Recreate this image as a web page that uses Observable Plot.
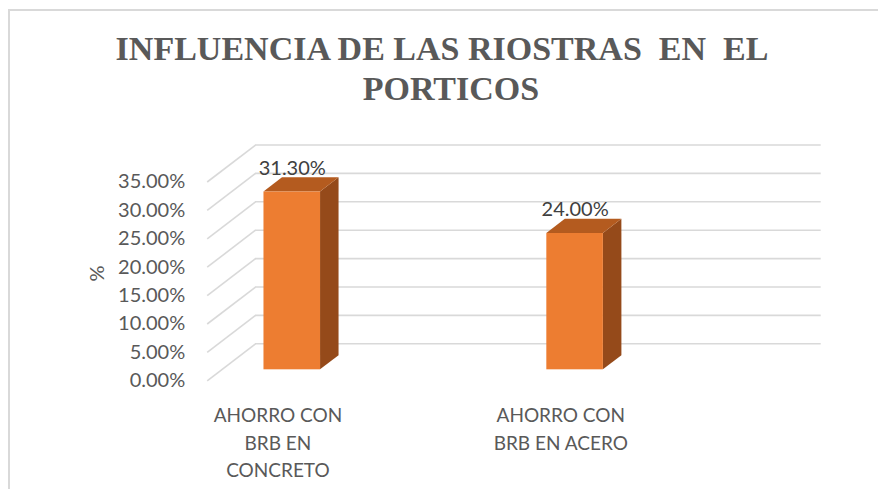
<!DOCTYPE html>
<html>
<head>
<meta charset="utf-8">
<script src="https://cdn.jsdelivr.net/npm/d3@7"></script>
<script src="https://cdn.jsdelivr.net/npm/@observablehq/plot@0.6"></script>
<style>
  html, body { margin: 0; padding: 0; background: #fff; }
  #chart { position: relative; width: 878px; height: 489px; overflow: hidden; background: #fff; }
  #frame { position: absolute; left: 8px; top: 9px; width: 1000px; height: 600px;
           border-left: 2px solid #d9d9d9; border-top: 2px solid #d9d9d9; }
  .title { position: absolute; left: 0; font-family: "Liberation Serif", "Times New Roman", serif;
           font-weight: bold; font-size: 34px; line-height: 34px; color: #595959;
           white-space: pre; transform: translateX(-50%); }
  #plot { position: absolute; left: 0; top: 0; }
</style>
</head>
<body>
<div id="chart">
  <div id="frame"></div>
  <div class="title" style="left:442px; top:32px;">INFLUENCIA DE LAS RIOSTRAS  EN  EL</div>
  <div class="title" style="left:451px; top:72px;">PORTICOS</div>
  <div id="plot"></div>
</div>
<script>
// Categories (x axis, multi-line), values in percent, and y-axis ticks
const categories = ["AHORRO CON\nBRB EN\nCONCRETO", "AHORRO CON\nBRB EN ACERO"];
const values = [31.3, 24.0];
const yTicks = [0, 5, 10, 15, 20, 25, 30, 35];

const bars = categories.map((label, i) => ({i, label, value: values[i]}));

// Oblique depth of the floor, in data units (x: categories, y: percent)
const depthX = 0.1708;
const depthY = 6.51;
// Bars sit between these fractions of the floor depth, and span +/- halfW around the category
const f1 = 0.297, f2 = 0.68, halfW = 0.1;
const g = f2 - f1;

const xMin = -0.25, xMax = 1.75;
const fmt = d => d.toFixed(2) + "%";

const frontColor = "#ED7D31", topColor = "#B45B1F", sideColor = "#954A1A", gridColor = "#d9d9d9";

const topFaces = bars.flatMap(b => {
  const xl = b.i - halfW + f1 * depthX, xr = b.i + halfW + f1 * depthX;
  return [
    {bar: b.i, y: b.value + f1 * depthY, x1: xl, x2: xr},
    {bar: b.i, y: b.value + f2 * depthY, x1: xl + g * depthX, x2: xr + g * depthX}
  ];
});
const sideFaces = bars.flatMap(b => {
  const xr = b.i + halfW + f1 * depthX;
  return [
    {bar: b.i, x: xr, y1: f1 * depthY, y2: b.value + f1 * depthY},
    {bar: b.i, x: xr + g * depthX, y1: f2 * depthY, y2: b.value + f2 * depthY}
  ];
});

const chart = Plot.plot({
  width: 878,
  height: 489,
  marginLeft: 206.7,
  marginRight: 105.6,
  marginTop: 181.5,
  marginBottom: 108.7,
  x: {domain: [xMin, xMax], axis: null},
  y: {domain: [0, 35], axis: null},
  style: {fontFamily: "Lato, sans-serif", fontSize: "20px", color: "#595959",
          background: "transparent", overflow: "visible"},
  marks: [
    // back wall gridlines
    Plot.ruleY(yTicks, {y: d => d + depthY, x1: xMin + depthX, x2: xMax + depthX,
                        stroke: gridColor, strokeWidth: 1.6}),
    // side wall gridlines, slanting from the axis to the back wall
    Plot.link(yTicks, {x1: xMin, y1: d => d, x2: xMin + depthX, y2: d => d + depthY,
                       stroke: gridColor, strokeWidth: 1.6}),
    // 3D bars: side, top, front
    Plot.areaY(sideFaces, {x: "x", y1: "y1", y2: "y2", z: "bar", fill: sideColor}),
    Plot.areaX(topFaces, {y: "y", x1: "x1", x2: "x2", z: "bar", fill: topColor}),
    Plot.rect(bars, {
      x1: d => d.i - halfW + f1 * depthX, x2: d => d.i + halfW + f1 * depthX,
      y1: f1 * depthY, y2: d => d.value + f1 * depthY, fill: frontColor
    }),
    // value labels
    Plot.text(bars, {
      x: d => d.i + f1 * depthX, y: d => d.value + f1 * depthY, text: d => fmt(d.value),
      lineAnchor: "bottom", dy: -17, fill: "#404040", fontSize: 20
    }),
    // y axis
    Plot.axisY(yTicks, {anchor: "left", tickSize: 0, tickPadding: 22, tickFormat: fmt,
                        label: null, fill: "#595959", fontSize: 20}),
    Plot.text(["%"], {frameAnchor: "left", dx: -110, rotate: -90, fill: "#595959", fontSize: 20}),
    // category labels
    Plot.text(bars, {x: "i", y: 0, text: "label", lineAnchor: "top", dy: 21,
                     lineHeight: 1.47, fill: "#595959", fontSize: 19})
  ]
});
document.getElementById("plot").appendChild(chart);
</script>
</body>
</html>
